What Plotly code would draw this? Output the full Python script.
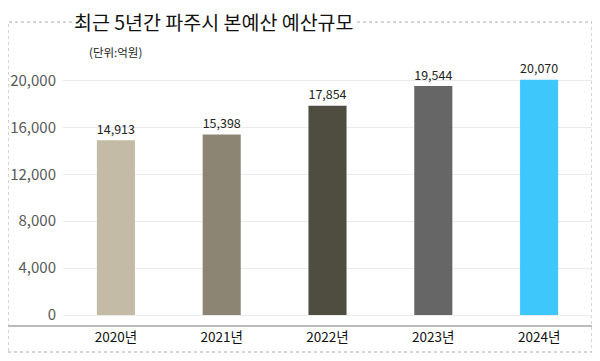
import plotly.graph_objects as go

years = ["2020년", "2021년", "2022년", "2023년", "2024년"]
budget = [14913, 15398, 17854, 19544, 20070]
labels = ["14,913", "15,398", "17,854", "19,544", "20,070"]
colors = ["#C3BBA6", "#8C8574", "#4F4D40", "#666666", "#3DC7FA"]
yticks = [0, 4000, 8000, 12000, 16000, 20000]

H = 252.0  # plot height in px
W = 529.0  # plot width in px

fig = go.Figure()
fig.add_trace(go.Bar(
    x=years, y=budget, marker=dict(color=colors, line=dict(width=0)),
    text=labels, textposition="outside", cliponaxis=False,
    textfont=dict(family="Noto Sans CJK KR", size=18.5, color="#222222"),
    width=0.36,
))

fig.update_layout(
    width=600, height=361,
    margin=dict(l=55, r=16, t=55, b=54),
    paper_bgcolor="white", plot_bgcolor="white",
    showlegend=False,
    font=dict(family="Noto Sans CJK KR"),
    xaxis=dict(showgrid=False, showline=False, ticks="", automargin=False,
               tickfont=dict(size=13.5, color="#111111"),
               ticklabelstandoff=12),
    yaxis=dict(range=[0, 21500], tickvals=yticks, tickformat=",", automargin=False,
               showgrid=True, gridcolor="#EBEBEB", gridwidth=1,
               zeroline=True, zerolinecolor="#EBEBEB", zerolinewidth=1,
               tickfont=dict(size=15, color="#595959"), ticklabelstandoff=6),
    shapes=[
        dict(type="rect", xref="paper", yref="paper",
             x0=-55/W, x1=1.0, y0=-37/H, y1=1 + 41/H,
             line=dict(color="#AAAAAA", width=1, dash="dot"), layer="below"),
        dict(type="line", xref="paper", yref="paper",
             x0=-55/W, x1=1.0, y0=-11/H, y1=-11/H,
             line=dict(color="#BBBBBB", width=2)),
    ],
    annotations=[
        dict(text="최근 5년간 파주시 본예산 예산규모", xref="paper", yref="paper",
             x=9/W, y=1 + 41/H, xanchor="left", yanchor="middle",
             showarrow=False, bgcolor="white",
             font=dict(family="Noto Sans CJK KR", size=19.5, color="#111111")),
        dict(text="(단위:억원)", xref="paper", yref="paper",
             x=24/W, y=1 + 11/H, xanchor="left", yanchor="middle",
             showarrow=False,
             font=dict(family="Noto Sans CJK KR", size=11.5, color="#222222")),
    ],
)

fig.write_html("out.html")
